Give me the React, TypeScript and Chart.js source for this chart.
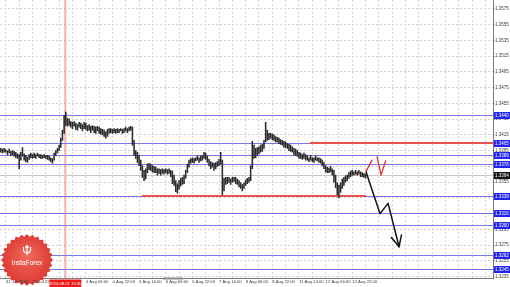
import React, { useEffect, useRef } from 'react';
import { Chart, registerables } from 'chart.js';
Chart.register(...registerables);

// H1 bars (low / high), EURUSD-like prices
const barLows = [
  1.3393, 1.3392, 1.3393, 1.3393, 1.3390, 1.3392, 1.3389, 1.3390, 1.3388, 1.3386,
  1.3385, 1.3372, 1.3383, 1.3388, 1.3383, 1.3381, 1.3380, 1.3384, 1.3386, 1.3385,
  1.3386, 1.3385, 1.3388, 1.3386, 1.3385, 1.3385, 1.3386, 1.3385, 1.3384, 1.3383,
  1.3381, 1.3379, 1.3383, 1.3389, 1.3392, 1.3395, 1.3399, 1.3408, 1.3417, 1.3427,
  1.3426, 1.3427, 1.3425, 1.3423, 1.3426, 1.3422, 1.3421, 1.3425, 1.3423, 1.3420,
  1.3423, 1.3422, 1.3420, 1.3421, 1.3418, 1.3421, 1.3418, 1.3417, 1.3420, 1.3417,
  1.3416, 1.3415, 1.3413, 1.3411, 1.3413, 1.3417, 1.3418, 1.3417, 1.3418, 1.3417,
  1.3418, 1.3418, 1.3420, 1.3417, 1.3418, 1.3420, 1.3418, 1.3420, 1.3421, 1.3402,
  1.3389, 1.3385, 1.3380, 1.3376, 1.3370, 1.3361, 1.3357, 1.3359, 1.3367, 1.3371,
  1.3370, 1.3368, 1.3367, 1.3367, 1.3364, 1.3366, 1.3364, 1.3366, 1.3365, 1.3367,
  1.3365, 1.3366, 1.3362, 1.3353, 1.3351, 1.3343, 1.3341, 1.3346, 1.3350, 1.3352,
  1.3353, 1.3360, 1.3367, 1.3374, 1.3379, 1.3380, 1.3379, 1.3382, 1.3383, 1.3380,
  1.3382, 1.3383, 1.3385, 1.3384, 1.3380, 1.3376, 1.3372, 1.3374, 1.3370, 1.3372,
  1.3375, 1.3376, 1.3378, 1.3339, 1.3344, 1.3352, 1.3353, 1.3355, 1.3352, 1.3355,
  1.3356, 1.3353, 1.3352, 1.3349, 1.3347, 1.3344, 1.3347, 1.3351, 1.3353, 1.3355,
  1.3357, 1.3372, 1.3385, 1.3386, 1.3389, 1.3391, 1.3393, 1.3394, 1.3398, 1.3406,
  1.3408, 1.3409, 1.3411, 1.3409, 1.3408, 1.3406, 1.3406, 1.3404, 1.3403, 1.3402,
  1.3399, 1.3399, 1.3398, 1.3395, 1.3394, 1.3393, 1.3390, 1.3389, 1.3388, 1.3385,
  1.3385, 1.3384, 1.3385, 1.3383, 1.3383, 1.3381, 1.3383, 1.3381, 1.3380, 1.3383,
  1.3382, 1.3380, 1.3379, 1.3376, 1.3372, 1.3368, 1.3367, 1.3367, 1.3368, 1.3364,
  1.3355, 1.3348, 1.3339, 1.3335, 1.3342, 1.3347, 1.3351, 1.3355, 1.3357, 1.3360,
  1.3362, 1.3364, 1.3364, 1.3365, 1.3364, 1.3365, 1.3362, 1.3362, 1.3361, 1.3360,
];
const barHighs = [
  1.3398, 1.3397, 1.3398, 1.3396, 1.3395, 1.3397, 1.3394, 1.3395, 1.3394, 1.3393,
  1.3391, 1.3390, 1.3393, 1.3399, 1.3391, 1.3389, 1.3387, 1.3390, 1.3392, 1.3390,
  1.3392, 1.3390, 1.3392, 1.3390, 1.3390, 1.3389, 1.3390, 1.3389, 1.3389, 1.3388,
  1.3386, 1.3385, 1.3392, 1.3395, 1.3398, 1.3402, 1.3411, 1.3421, 1.3440, 1.3444,
  1.3436, 1.3435, 1.3432, 1.3431, 1.3432, 1.3430, 1.3428, 1.3431, 1.3430, 1.3428,
  1.3431, 1.3430, 1.3427, 1.3428, 1.3426, 1.3427, 1.3426, 1.3425, 1.3426, 1.3425,
  1.3423, 1.3422, 1.3421, 1.3419, 1.3422, 1.3423, 1.3423, 1.3422, 1.3423, 1.3422,
  1.3423, 1.3422, 1.3423, 1.3422, 1.3423, 1.3425, 1.3423, 1.3425, 1.3426, 1.3425,
  1.3408, 1.3395, 1.3393, 1.3389, 1.3383, 1.3376, 1.3370, 1.3372, 1.3378, 1.3379,
  1.3378, 1.3376, 1.3375, 1.3374, 1.3372, 1.3372, 1.3371, 1.3372, 1.3371, 1.3372,
  1.3371, 1.3372, 1.3370, 1.3369, 1.3364, 1.3357, 1.3353, 1.3357, 1.3360, 1.3361,
  1.3364, 1.3370, 1.3378, 1.3383, 1.3385, 1.3386, 1.3385, 1.3386, 1.3388, 1.3386,
  1.3388, 1.3389, 1.3393, 1.3392, 1.3388, 1.3384, 1.3381, 1.3380, 1.3379, 1.3380,
  1.3381, 1.3384, 1.3393, 1.3383, 1.3360, 1.3361, 1.3361, 1.3361, 1.3359, 1.3361,
  1.3361, 1.3361, 1.3359, 1.3357, 1.3354, 1.3352, 1.3354, 1.3358, 1.3360, 1.3361,
  1.3376, 1.3407, 1.3402, 1.3398, 1.3399, 1.3400, 1.3402, 1.3403, 1.3408, 1.3431,
  1.3421, 1.3417, 1.3417, 1.3416, 1.3415, 1.3413, 1.3412, 1.3411, 1.3409, 1.3408,
  1.3407, 1.3406, 1.3404, 1.3403, 1.3402, 1.3400, 1.3398, 1.3397, 1.3395, 1.3393,
  1.3392, 1.3390, 1.3392, 1.3390, 1.3389, 1.3386, 1.3389, 1.3386, 1.3386, 1.3388,
  1.3386, 1.3386, 1.3385, 1.3383, 1.3380, 1.3376, 1.3374, 1.3373, 1.3375, 1.3372,
  1.3370, 1.3364, 1.3354, 1.3351, 1.3354, 1.3359, 1.3361, 1.3363, 1.3364, 1.3367,
  1.3369, 1.3370, 1.3368, 1.3370, 1.3368, 1.3370, 1.3368, 1.3367, 1.3366, 1.3365,
];
const leadBars = 3;     // bars before the first time label
const futureBars = 76;  // empty space on the right
const timeLabels = [
  '31 Jul 06:00', '31 Jul 22:00', '1 Aug 14:00', '4 Aug 06:00', '4 Aug 22:00',
  '5 Aug 14:00', '6 Aug 06:00', '6 Aug 22:00', '7 Aug 14:00', '8 Aug 06:00',
  '8 Aug 22:00', '11 Aug 14:00', '12 Aug 06:00', '12 Aug 22:00',
];
const yTicks = [
  1.3575, 1.3555, 1.3535, 1.3515, 1.3495, 1.3475, 1.3455, 1.3435, 1.3415,
  1.3395, 1.3375, 1.3355, 1.3335, 1.3315, 1.3295, 1.3275, 1.3255, 1.3235,
];
const yMin = 1.32326;
const yMax = 1.35864;
const blueLevels = [1.3440, 1.3405, 1.3389, 1.3378, 1.3338, 1.3316, 1.3300, 1.3262, 1.3245];
const bidLevel = 1.3364;
const redLevels = [1.3405, 1.3338];
const redFrom = [185.6, 84.7];
const redTo = [295.5, 219.3];
const eventIndex = 38.7;
const eventLabel = '2014.08.01 15:30';
const forecastX = [219.3, 227.7, 232.5, 239.1];
const forecastY = [1.3368, 1.3315, 1.3328, 1.3273];
const altUpX = [219.3, 222.9];
const altUpY = [1.3369, 1.3383];
const altDownX = [225.9, 228.3, 231.0];
const altDownY = [1.3387, 1.3364, 1.3382];

const FONT = '"Liberation Sans", Arial, sans-serif';

const overlay = {
  id: 'overlay',
  beforeDatasetsDraw(chart: any) {
    const { ctx, chartArea: a, scales } = chart;
    const x = scales.x, y = scales.y;
    const hy = (v: number) => Math.round(y.getPixelForValue(v)) + 0.5;
    ctx.save();
    ctx.beginPath();
    ctx.rect(a.left, a.top, a.right - a.left, a.bottom - a.top);
    ctx.clip();
    const ex = x.getPixelForValue(eventIndex);
    ctx.strokeStyle = 'rgba(240,120,120,0.6)';
    ctx.lineWidth = 2;
    ctx.beginPath(); ctx.moveTo(ex, a.top); ctx.lineTo(ex, a.bottom); ctx.stroke();
    ctx.lineWidth = 1;
    ctx.strokeStyle = '#c8c8c8';
    ctx.beginPath(); ctx.moveTo(a.left, hy(bidLevel)); ctx.lineTo(a.right, hy(bidLevel)); ctx.stroke();
    ctx.strokeStyle = '#7878ec';
    blueLevels.forEach((v) => {
      ctx.beginPath(); ctx.moveTo(a.left, hy(v)); ctx.lineTo(a.right, hy(v)); ctx.stroke();
    });
    ctx.strokeStyle = '#e85050';
    ctx.lineWidth = 2;
    redLevels.forEach((v, k) => {
      const py = Math.round(y.getPixelForValue(v));
      ctx.beginPath();
      ctx.moveTo(x.getPixelForValue(redFrom[k]), py);
      ctx.lineTo(x.getPixelForValue(redTo[k]), py);
      ctx.stroke();
    });
    ctx.restore();
  },
  afterDatasetsDraw(chart: any) {
    const { ctx } = chart;
    ctx.save();
    // InstaForex badge (drawn under the time-axis labels)
    const cx = 27, cy = 260, ro = 26, ri = 23.5, sp = 28;
    ctx.beginPath();
    for (let k = 0; k < 2 * sp; k++) {
      const r = k % 2 ? ri : ro;
      const t = (k * Math.PI) / sp - Math.PI / 2;
      const px = cx + r * Math.cos(t), py = cy + r * Math.sin(t);
      if (k === 0) ctx.moveTo(px, py); else ctx.lineTo(px, py);
    }
    ctx.closePath();
    const g = ctx.createRadialGradient(cx, cy - 6, 2, cx, cy, ro);
    g.addColorStop(0, '#f0665a');
    g.addColorStop(1, '#dc3b32');
    ctx.fillStyle = g;
    ctx.fill();
    ctx.fillStyle = '#fff';
    ctx.font = `6.5px ${FONT}`;
    ctx.textAlign = 'center';
    ctx.textBaseline = 'middle';
    ctx.fillText('InstaForex', cx, cy + 3);
    ctx.strokeStyle = '#fff';
    ctx.lineWidth = 1.2;
    ctx.beginPath(); ctx.arc(cx, cy - 13, 1.8, 0, Math.PI * 2); ctx.fill();
    ctx.beginPath(); ctx.arc(cx, cy - 10.5, 3.5, 0.1 * Math.PI, 0.9 * Math.PI); ctx.stroke();
    ctx.beginPath(); ctx.moveTo(cx, cy - 11); ctx.lineTo(cx, cy - 5); ctx.stroke();
    ctx.beginPath(); ctx.moveTo(cx - 3.5, cy - 13); ctx.lineTo(cx - 3.5, cy - 9); ctx.moveTo(cx + 3.5, cy - 13); ctx.lineTo(cx + 3.5, cy - 9); ctx.stroke();
    ctx.restore();
  },
  afterDraw(chart: any) {
    const { ctx, chartArea: a, scales, width } = chart;
    const x = scales.x, y = scales.y;
    ctx.save();
    const poly = (xs: number[], ys: number[]) => {
      ctx.beginPath();
      xs.forEach((xv, k) => {
        const px = x.getPixelForValue(xv), py = y.getPixelForValue(ys[k]);
        if (k === 0) ctx.moveTo(px, py); else ctx.lineTo(px, py);
      });
      ctx.stroke();
    };
    ctx.lineCap = 'round';
    ctx.lineJoin = 'round';
    ctx.strokeStyle = '#111';
    ctx.lineWidth = 1.5;
    poly(forecastX, forecastY);
    const n = forecastX.length;
    const tx = x.getPixelForValue(forecastX[n - 1]), ty = y.getPixelForValue(forecastY[n - 1]);
    const fx = x.getPixelForValue(forecastX[n - 2]), fy = y.getPixelForValue(forecastY[n - 2]);
    const ang = Math.atan2(ty - fy, tx - fx);
    const hl = 12, ha = 0.45;
    ctx.beginPath();
    ctx.moveTo(tx - hl * Math.cos(ang - ha), ty - hl * Math.sin(ang - ha));
    ctx.lineTo(tx, ty);
    ctx.lineTo(tx - hl * Math.cos(ang + ha), ty - hl * Math.sin(ang + ha));
    ctx.stroke();
    ctx.strokeStyle = '#e83030';
    ctx.lineWidth = 1.3;
    poly(altUpX, altUpY);
    poly(altDownX, altDownY);

    ctx.font = `4.5px ${FONT}`;
    ctx.textBaseline = 'middle';
    ctx.textAlign = 'left';
    const box = (v: number, bg: string) => {
      const py = Math.round(y.getPixelForValue(v));
      ctx.fillStyle = bg;
      ctx.fillRect(a.right + 1, py - 3, width - a.right - 1, 7);
      ctx.fillStyle = '#fff';
      ctx.fillText(v.toFixed(4), a.right + 2, py + 0.5);
    };
    blueLevels.forEach((v) => box(v, '#2323ee'));
    box(bidLevel, '#111');

    const ex = x.getPixelForValue(eventIndex);
    ctx.fillStyle = '#f01818';
    ctx.fillRect(ex - 16, a.bottom + 1, 32, 7.5);
    ctx.fillStyle = '#fff';
    ctx.textAlign = 'center';
    ctx.font = `4.2px ${FONT}`;
    ctx.fillText(eventLabel, ex, a.bottom + 5);

    ctx.fillStyle = '#8a8a8a';
    ctx.fillRect(163, a.bottom - 1, 20, 2);
    ctx.restore();
  },
};

export default function App() {
  const ref = useRef<HTMLCanvasElement | null>(null);
  useEffect(() => {
    document.body.style.margin = '0';
    const total = barLows.length + futureBars;
    const categories = Array.from({ length: total }, (_, i) => String(i));
    const bars = categories.map((_, i) => (i < barLows.length ? [barLows[i], barHighs[i]] : null));
    const gridOn = (idx: number) => idx >= leadBars && (idx - leadBars) % 8 === 0;
    const chart = new Chart(ref.current as HTMLCanvasElement, {
      type: 'bar',
      data: {
        labels: categories,
        datasets: [
          {
            data: bars as any,
            backgroundColor: '#2a2a2a',
            borderWidth: 0,
            barThickness: 0.9,
          },
        ],
      },
      options: {
        animation: false,
        responsive: false,
        devicePixelRatio: 1,
        layout: { padding: 0 },
        plugins: { legend: { display: false }, tooltip: { enabled: false } },
        scales: {
          x: {
            type: 'category',
            offset: true,
            grid: {
              offset: false,
              drawTicks: false,
              color: (c: any) => (gridOn(c.index) ? '#d2d2d2' : 'rgba(0,0,0,0)'),
            },
            border: { display: true, color: '#7a7a7a', dash: [2, 2] },
            ticks: {
              z: 1,
              autoSkip: false,
              maxRotation: 0,
              minRotation: 0,
              align: 'start',
              padding: 1,
              color: '#3a3a3a',
              font: { size: 4.2, family: FONT },
              callback: (_v: any, idx: number) => {
                const k = idx - leadBars;
                if (k < 0 || k % 16 !== 0) return '';
                const li = k / 16;
                return li < timeLabels.length ? timeLabels[li] : '';
              },
            },
            afterFit: (s: any) => {
              s.height = 8.5;
              s.paddingLeft = 0;
              s.paddingRight = 0;
            },
          },
          y: {
            position: 'right',
            min: yMin,
            max: yMax,
            afterBuildTicks: (s: any) => {
              s.ticks = yTicks.map((v) => ({ value: v }));
            },
            grid: { color: '#d2d2d2', tickLength: 1.5, tickColor: '#7a7a7a' },
            border: { display: true, color: '#7a7a7a', dash: [2, 2] },
            ticks: {
              autoSkip: false,
              padding: 0.5,
              color: '#3a3a3a',
              font: { size: 4.5, family: FONT },
              callback: (v: any) => Number(v).toFixed(4),
            },
            afterFit: (s: any) => {
              s.width = 17;
              s.paddingTop = 0;
              s.paddingBottom = 0;
            },
          },
        },
      } as any,
      plugins: [overlay],
    });
    return () => chart.destroy();
  }, []);
  return <canvas ref={ref} width={510} height={287} style={{ display: 'block', width: 510, height: 287 }} />;
}
